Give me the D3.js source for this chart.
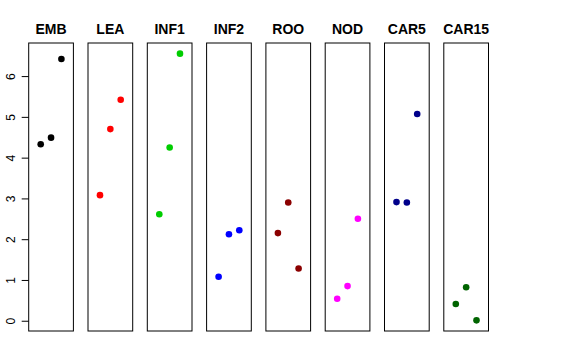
<!DOCTYPE html>
<html>
<head>
<meta charset="utf-8">
<script src="https://cdn.jsdelivr.net/npm/d3@7"></script>
<style>
  body { margin: 0; background: #fff; }
  svg { display: block; font-family: "Liberation Sans", Arial, Helvetica, sans-serif; }
</style>
</head>
<body>
<svg id="chart" width="576" height="360"></svg>
<script>
const categories = ["EMB", "LEA", "INF1", "INF2", "ROO", "NOD", "CAR5", "CAR15"];
const colors = ["#000000", "#FF0000", "#00CD00", "#0000FF", "#8B0000", "#FF00FF", "#00008B", "#006400"];
const replicates = [1, 2, 3];
const valuesEMB   = [4.33, 4.49, 6.42];
const valuesLEA   = [3.08, 4.70, 5.42];
const valuesINF1  = [2.61, 4.25, 6.55];
const valuesINF2  = [1.08, 2.12, 2.22];
const valuesROO   = [2.15, 2.90, 1.28];
const valuesNOD   = [0.54, 0.85, 2.50];
const valuesCAR5  = [2.91, 2.90, 5.07];
const valuesCAR15 = [0.41, 0.82, 0.01];
const yTicks = [0, 1, 2, 3, 4, 5, 6];

const seriesValues = [valuesEMB, valuesLEA, valuesINF1, valuesINF2, valuesROO, valuesNOD, valuesCAR5, valuesCAR15];

(function () {
  const svg = d3.select("#chart");
  const plotTop = 43, plotBottom = 331;
  const panelLeft0 = 28.7, panelStep = 59.3, panelW = 44.7;

  const allVals = seriesValues.flat();
  const yMin = d3.min(allVals), yMax = d3.max(allVals);
  const yPad = (yMax - yMin) * 0.04;
  const y = d3.scaleLinear().domain([yMin - yPad, yMax + yPad]).range([plotBottom, plotTop]);

  // y axis
  const axisG = svg.append("g").attr("transform", `translate(${panelLeft0},0)`);
  axisG.call(d3.axisLeft(y).tickValues(yTicks).tickSize(7).tickPadding(0).tickFormat(d3.format("d")));
  axisG.select(".domain").remove();
  axisG.selectAll(".tick line").attr("stroke", "#000");
  axisG.selectAll(".tick text")
    .attr("x", null).attr("dy", null)
    .attr("transform", `translate(${15 - panelLeft0},0) rotate(-90)`)
    .attr("text-anchor", "middle")
    .attr("font-size", 12)
    .attr("font-family", "Liberation Sans, Arial, sans-serif")
    .attr("fill", "#000");

  categories.forEach((cat, i) => {
    const x0 = panelLeft0 + i * panelStep;
    const x = d3.scaleLinear().domain([-0.16, 4.16]).range([x0, x0 + panelW]);
    const g = svg.append("g");
    g.append("rect")
      .attr("x", x0).attr("y", plotTop)
      .attr("width", panelW).attr("height", plotBottom - plotTop)
      .attr("fill", "none").attr("stroke", "#000").attr("stroke-width", 1);
    g.append("text")
      .attr("x", x0 + panelW / 2).attr("y", 34)
      .attr("text-anchor", "middle")
      .attr("font-size", 14).attr("font-weight", "bold")
      .text(cat);
    g.selectAll("circle")
      .data(seriesValues[i].map((v, j) => ({ r: replicates[j], v })))
      .enter().append("circle")
      .attr("cx", d => x(d.r))
      .attr("cy", d => y(d.v))
      .attr("r", 3.3)
      .attr("fill", colors[i]);
  });
})();
</script>
</body>
</html>
